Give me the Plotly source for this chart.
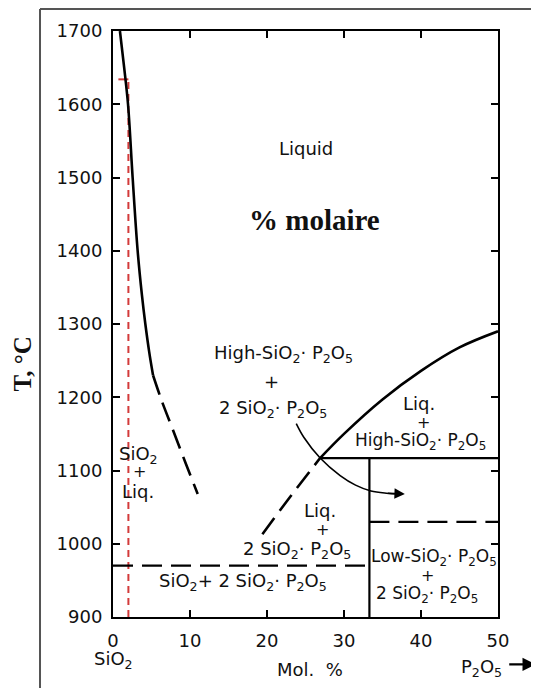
import plotly.graph_objects as go

# ---- data (mol % P2O5, temperature in °C) ----
liq_sio2_solid_x = [0.9, 1.45, 1.95, 2.55, 3.2, 3.75, 4.2, 4.7, 5.2]
liq_sio2_solid_t = [1700, 1650, 1600, 1500, 1400, 1340, 1300, 1262, 1230]
liq_sio2_dash_x = [5.2, 6.3, 7.8, 9.4, 11.0]
liq_sio2_dash_t = [1230, 1196, 1155, 1111, 1068]

liq_p2o5_solid_x = [26.9, 30.0, 35.0, 40.0, 45.0, 50.0]
liq_p2o5_solid_t = [1117, 1150, 1197, 1236, 1268, 1290]
liq_p2o5_dash_x = [19.4, 22.5, 26.9]
liq_p2o5_dash_t = [1013, 1057, 1117]

eutectic_x = [0, 33.3]
eutectic_t = [970, 970]
compound_x = [33.3, 33.3]
compound_t = [900, 1117]
transition_hi_x = [26.9, 50]
transition_hi_t = [1117, 1117]
transition_lo_x = [33.3, 50]
transition_lo_t = [1030, 1030]

arrow_x = [23.8, 24.8, 26.9, 29.5, 31.5, 33.5, 35.5, 37.3]
arrow_t = [1164, 1145, 1117, 1093, 1080, 1072, 1069, 1068]

red_x = [2.0, 2.0]
red_t = [900, 1634]
red_tick_x = [0.7, 2.0]
red_tick_t = [1634, 1634]

x_ticks = [0, 10, 20, 30, 40, 50]
y_ticks = [900, 1000, 1100, 1200, 1300, 1400, 1500, 1600, 1700]

labels = [
    ("Liquid", 25.1, 1540, 18),
    ("High-SiO<sub>2</sub>· P<sub>2</sub>O<sub>5</sub>", 22.1, 1259, 18),
    ("+", 20.6, 1221, 18),
    ("2 SiO<sub>2</sub>· P<sub>2</sub>O<sub>5</sub>", 20.8, 1184, 18),
    ("Liq.", 39.7, 1191, 18),
    ("+", 40.3, 1166, 16),
    ("High-SiO<sub>2</sub>· P<sub>2</sub>O<sub>5</sub>", 39.9, 1139, 17),
    ("SiO<sub>2</sub>", 3.3, 1121, 18),
    ("+", 3.5, 1098, 16),
    ("Liq.", 3.3, 1072, 18),
    ("Liq.", 26.9, 1046, 18),
    ("+", 27.2, 1019, 16),
    ("2 SiO<sub>2</sub>· P<sub>2</sub>O<sub>5</sub>", 23.9, 991, 18),
    ("SiO<sub>2</sub>+ 2 SiO<sub>2</sub>· P<sub>2</sub>O<sub>5</sub>", 16.9, 948, 18),
    ("Low-SiO<sub>2</sub>· P<sub>2</sub>O<sub>5</sub>", 41.7, 981, 17),
    ("+", 40.8, 957, 16),
    ("2 SiO<sub>2</sub>· P<sub>2</sub>O<sub>5</sub>", 40.8, 931, 17),
]

FONT = "DejaVu Sans"
fig = go.Figure()


def line(x, y, dash="solid", width=2.6, color="black", shape="linear"):
    fig.add_trace(go.Scatter(x=x, y=y, mode="lines", hoverinfo="skip",
                             showlegend=False,
                             line=dict(color=color, width=width, dash=dash,
                                       shape=shape)))


line(red_x, red_t, dash="7px,5px", width=2, color="#d33a3a")
line(red_tick_x, red_tick_t, width=2, color="#d33a3a")
line(liq_sio2_solid_x, liq_sio2_solid_t, shape="spline")
line(liq_sio2_dash_x, liq_sio2_dash_t, dash="20px,9px", shape="spline")
line(liq_p2o5_solid_x, liq_p2o5_solid_t, shape="spline")
line(liq_p2o5_dash_x, liq_p2o5_dash_t, dash="20px,9px", shape="spline")
line(eutectic_x, eutectic_t, dash="20px,9px", width=2.2)
line(compound_x, compound_t, width=2.2)
line(transition_hi_x, transition_hi_t, width=2.2)
line(transition_lo_x, transition_lo_t, dash="20px,9px", width=2.2)
line(arrow_x, arrow_t, width=1.6, shape="spline")

ann = []
for txt, x, y, s in labels:
    ann.append(dict(text=txt, x=x, y=y, xref="x", yref="y", showarrow=False,
                    xanchor="center", yanchor="middle",
                    font=dict(family=FONT, size=s, color="#111")))
ann.append(dict(text="<b>% molaire</b>", x=26.2, y=1442, xref="x", yref="y",
                showarrow=False, xanchor="center", yanchor="middle",
                font=dict(family="Liberation Serif", size=29, color="#111")))
# arrowhead of the curved arrow
ann.append(dict(text="", x=arrow_x[-1] + 0.6, y=arrow_t[-1], ax=arrow_x[-2],
                ay=arrow_t[-2], xref="x", yref="y", axref="x", ayref="y",
                showarrow=True, arrowhead=2, arrowsize=1.3, arrowwidth=1.6,
                arrowcolor="black"))
# axis titles / end labels
ann.append(dict(text="<b>T, °C</b>", x=-0.236, y=0.431, xref="paper",
                yref="paper", showarrow=False, textangle=-90,
                xanchor="center", yanchor="middle",
                font=dict(family="Liberation Serif", size=25, color="#111")))
ann.append(dict(text="SiO<sub>2</sub>", x=0.0, y=-0.073, xref="paper",
                yref="paper", showarrow=False, xanchor="center",
                yanchor="middle",
                font=dict(family=FONT, size=18, color="#111")))
ann.append(dict(text="Mol.  %", x=0.512, y=-0.09, xref="paper",
                yref="paper", showarrow=False, xanchor="center",
                yanchor="middle",
                font=dict(family=FONT, size=18, color="#111")))
ann.append(dict(text="P<sub>2</sub>O<sub>5</sub>", x=0.958, y=-0.087,
                xref="paper", yref="paper", showarrow=False,
                xanchor="center", yanchor="middle",
                font=dict(family=FONT, size=18, color="#111")))
ann.append(dict(text="", x=1.098, y=-0.081, ax=-28, ay=0, xref="paper",
                yref="paper", showarrow=True, arrowhead=2, arrowsize=1.2,
                arrowwidth=2.2, arrowcolor="black"))

fig.update_layout(
    width=531, height=680,
    margin=dict(l=105, r=41, t=20, b=71),
    paper_bgcolor="white", plot_bgcolor="white",
    annotations=ann,
    shapes=[
        dict(type="line", xref="paper", yref="paper", x0=-0.1896, x1=1.11,
             y0=1.0374, y1=1.0374, line=dict(color="#555", width=2)),
        dict(type="line", xref="paper", yref="paper", x0=-0.1896, x1=-0.1896,
             y0=1.0374, y1=-0.125, line=dict(color="#555", width=2)),
    ],
)
fig.update_xaxes(range=[0, 50], tickvals=x_ticks, ticks="inside", ticklen=7,
                 tickwidth=2, tickcolor="black", showline=True, linewidth=2,
                 linecolor="black", mirror="ticks", showgrid=False,
                 zeroline=False, ticklabelstandoff=6,
                 tickfont=dict(family=FONT, size=18, color="#111"))
fig.update_yaxes(range=[900, 1700], tickvals=y_ticks, ticks="inside",
                 ticklen=7, tickwidth=2, tickcolor="black", showline=True,
                 linewidth=2, linecolor="black", mirror="ticks",
                 showgrid=False, zeroline=False, ticklabelstandoff=5,
                 tickfont=dict(family=FONT, size=18, color="#111"))

fig.write_html("out.html")
